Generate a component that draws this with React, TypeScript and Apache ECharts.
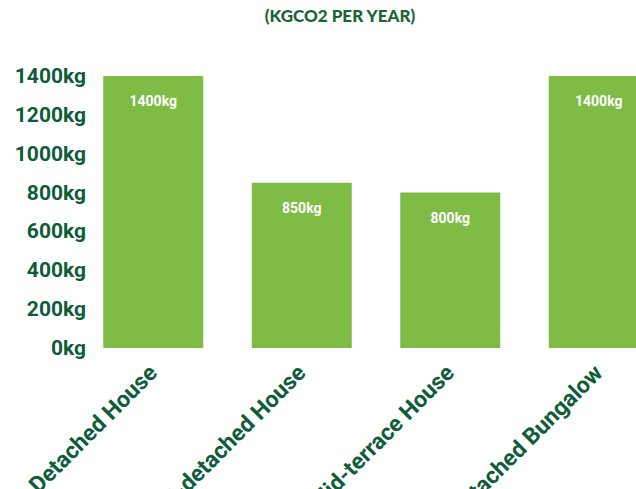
import React, { useEffect, useRef } from "react";
import * as echarts from "echarts";

const categories = ["Detached House", "Semi-detached House", "Mid-terrace House", "Detached Bungalow"];
const emissions = [1400, 850, 800, 1400];
const titleText = "(KGCO2 PER YEAR)";
const unit = "kg";

export default function App() {
  const ref = useRef<HTMLDivElement>(null);
  useEffect(() => {
    if (!ref.current) return;
    const chart = echarts.init(ref.current, undefined, { renderer: "svg" });
    chart.setOption({
      animation: false,
      backgroundColor: "#ffffff",
      title: {
        text: titleText,
        left: 335,
        top: 2,
        textAlign: "center",
        textStyle: { color: "#1b6437", fontSize: 17, fontWeight: 900, fontFamily: "Lato" },
      },
      grid: { left: 79, width: 594, top: 76, bottom: 141, containLabel: false, outerBoundsMode: "none" },
      xAxis: {
        type: "category",
        data: categories,
        axisLine: { show: false },
        axisTick: { show: false },
        axisLabel: {
          rotate: 45,
          interval: 0,
          margin: 21,
          color: "#0f5c3b",
          fontSize: 23,
          fontWeight: "bold",
          fontFamily: "Roboto",
        },
      },
      yAxis: {
        type: "value",
        min: 0,
        max: 1400,
        interval: 200,
        axisLine: { show: false },
        axisTick: { show: false },
        splitLine: { show: false },
        axisLabel: {
          margin: -7,
          color: "#0f5c3b",
          fontSize: 21,
          fontWeight: "bold",
          fontFamily: "Roboto",
          formatter: (v: number) => `${v}${unit}`,
        },
      },
      series: [
        {
          type: "bar",
          data: emissions,
          barWidth: 100,
          itemStyle: { color: "#7ebc45" },
          label: {
            show: true,
            position: "insideTop",
            distance: 18,
            color: "#ffffff",
            fontSize: 14,
            fontWeight: "bold",
            fontFamily: "Roboto",
            formatter: (p: any) => `${p.value}${unit}`,
          },
        },
      ],
    });
    return () => chart.dispose();
  }, []);
  return <div ref={ref} style={{ width: 636, height: 489, position: "absolute", left: 0, top: 0 }} />;
}
